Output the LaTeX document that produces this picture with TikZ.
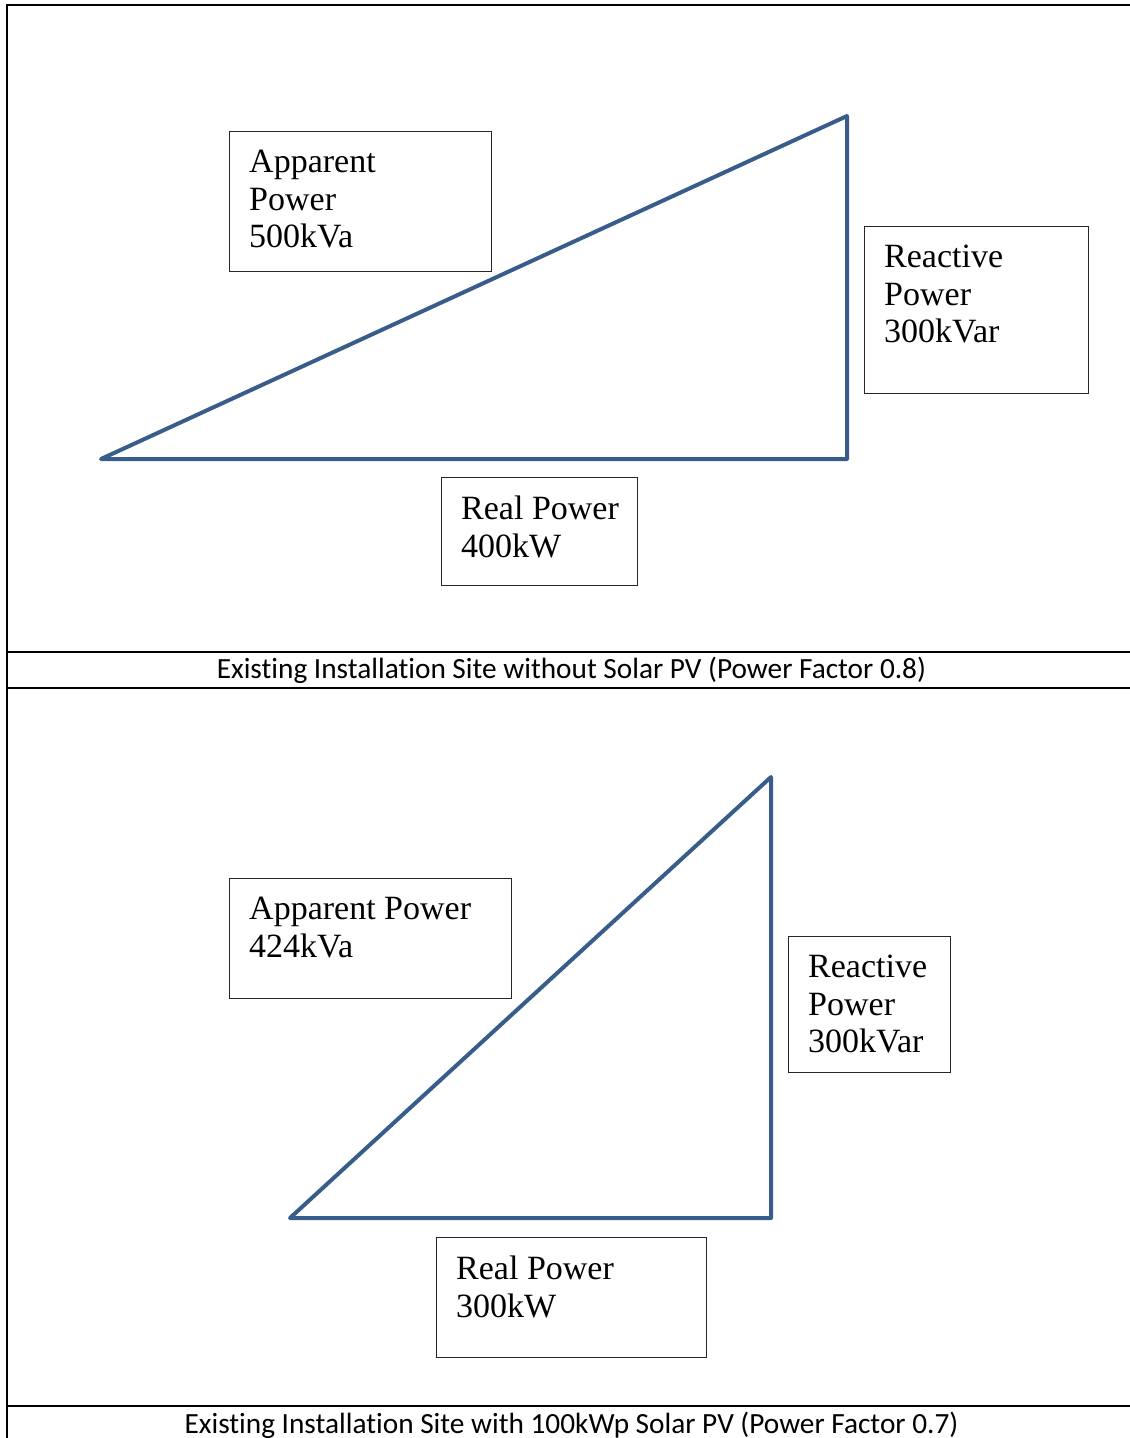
\documentclass[tikz,border=0pt]{standalone}
\usepackage{fontspec}
\setmainfont{Liberation Serif}
\newfontfamily\capfont[Ligatures=NoCommon]{Carlito}
\definecolor{triblue}{RGB}{56,93,138}
\begin{document}
\begin{tikzpicture}[x=1pt,y=-1pt,
  tri/.style={draw=triblue,line width=4pt,line join=round,line cap=round},
  tbl/.style={draw=black,line width=2pt},
  tbox/.style={draw=black!85,line width=1pt,inner sep=0pt,anchor=north west},
  lbl/.style={inner sep=0pt,anchor=north west,align=left,font=\fontsize{34}{37.5}\selectfont},
  captxt/.style={inner sep=0pt,anchor=base,font=\capfont\fontsize{29.3}{32}\selectfont}]
\useasboundingbox (0,0) rectangle (1130,1438);
% table
\coordinate (tl) at (7,5);
\coordinate (tr) at (1130,5);
\coordinate (bl) at (7,1438);
\coordinate (r1l) at (7,652);
\coordinate (r1r) at (1130,652);
\coordinate (r2l) at (7,688);
\coordinate (r2r) at (1130,688);
\coordinate (r3l) at (7,1406);
\coordinate (r3r) at (1130,1406);
\draw[tbl] (tr) -- (tl) -- (bl);
\draw[tbl] (r1l) -- (r1r);
\draw[tbl] (r2l) -- (r2r);
\draw[tbl] (r3l) -- (r3r);
\node[captxt] (c1) at (571.5,678.5) {Existing Installation Site without Solar PV (Power Factor 0.8)};
\node[captxt] (c2) at (571.5,1433.5) {Existing Installation Site with 100kWp Solar PV (Power Factor 0.7)};
% top triangle
\coordinate (a1) at (101,459);
\coordinate (b1) at (847,116);
\coordinate (d1) at (847,459);
\draw[tri] (a1) -- (b1) -- (d1) -- cycle;
\node[tbox,minimum width=262,minimum height=140] (ap1) at (229,131) {};
\node[lbl] (tap1) at ([shift={(20,19)}]ap1.north west) {Apparent\\Power\\500kVa};
\node[tbox,minimum width=224,minimum height=167] (re1) at (864,226) {};
\node[lbl] (tre1) at ([shift={(20,19)}]re1.north west) {Reactive\\Power\\300kVar};
\node[tbox,minimum width=196,minimum height=108] (rp1) at (441,477) {};
\node[lbl] (trp1) at ([shift={(20,19)}]rp1.north west) {Real Power\\400kW};
% bottom triangle
\coordinate (a2) at (290,1218);
\coordinate (b2) at (771,777);
\coordinate (d2) at (771,1218);
\draw[tri] (a2) -- (b2) -- (d2) -- cycle;
\node[tbox,minimum width=282,minimum height=120] (ap2) at (229,878) {};
\node[lbl] (tap2) at ([shift={(20,19)}]ap2.north west) {Apparent Power\\424kVa};
\node[tbox,minimum width=162,minimum height=136] (re2) at (788,936) {};
\node[lbl] (tre2) at ([shift={(20,19)}]re2.north west) {Reactive\\Power\\300kVar};
\node[tbox,minimum width=270,minimum height=120] (rp2) at (436,1237) {};
\node[lbl] (trp2) at ([shift={(20,19)}]rp2.north west) {Real Power\\300kW};
\end{tikzpicture}
\end{document}
